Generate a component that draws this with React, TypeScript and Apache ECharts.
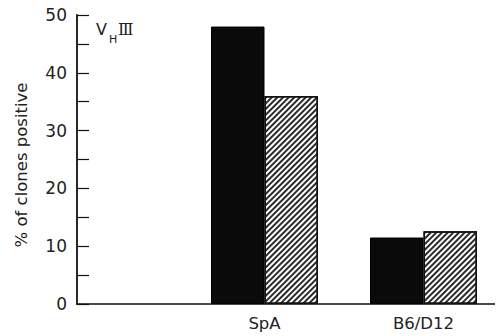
import React, { useEffect, useRef } from "react";
import * as echarts from "echarts";

const categories = ["", "SpA", "B6/D12"];
const solidValues: (number | null)[] = [null, 48, 11.5];
const hatchedValues: (number | null)[] = [null, 36, 12.6];
const yTicks = [0, 10, 20, 30, 40, 50];
const yName = "% of clones positive";

const FONT = "DejaVu Sans";

export default function App() {
  const ref = useRef<HTMLDivElement>(null);
  useEffect(() => {
    if (!ref.current) return;
    const chart = echarts.init(ref.current, undefined, { renderer: "svg" });
    const yMin = yTicks[0];
    const yMax = yTicks[yTicks.length - 1];
    chart.setOption({
      animation: false,
      backgroundColor: "#fff",
      grid: [
        { left: 77, right: 0, top: 15, bottom: 32 },
        { left: 26, right: 0, top: 15, bottom: 32 },
      ],
      xAxis: [
        {
          type: "category",
          gridIndex: 0,
          data: [""],
          axisLine: { show: true, lineStyle: { color: "#111", width: 1.6 } },
          axisTick: { show: false },
          axisLabel: { show: false },
        },
        {
          type: "category",
          gridIndex: 1,
          data: categories,
          axisLine: { show: false },
          axisTick: { show: false },
          axisLabel: {
            show: true,
            color: "#222",
            fontFamily: FONT,
            fontSize: 16.5,
            margin: 11,
          },
        },
      ],
      yAxis: [
        {
          type: "value",
          gridIndex: 0,
          min: yMin,
          max: yMax,
          interval: 5,
          name: yName,
          nameLocation: "middle",
          nameGap: 47,
          nameRotate: 90,
          nameTextStyle: {
            color: "#222",
            fontFamily: FONT,
            fontSize: 16.5,
            padding: [0, 11, 0, 0],
          },
          splitLine: { show: false },
          axisLine: { show: true, lineStyle: { color: "#111", width: 1.8 } },
          axisTick: { show: true, inside: true, length: 12, lineStyle: { color: "#111", width: 1.2 } },
          axisLabel: {
            color: "#222",
            fontFamily: FONT,
            fontSize: 17,
            margin: 10,
            formatter: (v: number) => (yTicks.includes(v) ? String(v) : ""),
          },
        },
        {
          type: "value",
          gridIndex: 1,
          min: yMin,
          max: yMax,
          show: false,
        },
      ],
      graphic: [
        {
          type: "text",
          left: 96,
          top: 21,
          style: { text: "V", fontFamily: FONT, fontSize: 16, fill: "#222" },
        },
        {
          type: "text",
          left: 109,
          top: 34,
          style: { text: "H", fontFamily: FONT, fontSize: 11, fill: "#222" },
        },
        {
          type: "text",
          left: 118,
          top: 21,
          style: { text: "Ⅲ", fontFamily: "DejaVu Serif", fontSize: 16, fill: "#222" },
        },
      ],
      series: [
        {
          type: "bar",
          xAxisIndex: 1,
          yAxisIndex: 1,
          data: solidValues,
          barWidth: 53.5,
          barGap: "0%",
          itemStyle: { color: "#0a0a0a", borderColor: "#000", borderWidth: 1 },
        },
        {
          type: "bar",
          xAxisIndex: 1,
          yAxisIndex: 1,
          data: hatchedValues,
          barWidth: 53.5,
          barGap: "0%",
          itemStyle: {
            color: "#fff",
            borderColor: "#111",
            borderWidth: 1.5,
            decal: {
              symbol: "rect",
              symbolSize: 1,
              color: "#2a2a2a",
              dashArrayX: [1, 0],
              dashArrayY: [1.1, 1.4],
              rotation: -Math.PI / 4,
            },
          },
        },
      ],
    });
    return () => chart.dispose();
  }, []);
  return <div ref={ref} style={{ width: 503, height: 336, marginLeft: -8, marginTop: -8 }} />;
}
